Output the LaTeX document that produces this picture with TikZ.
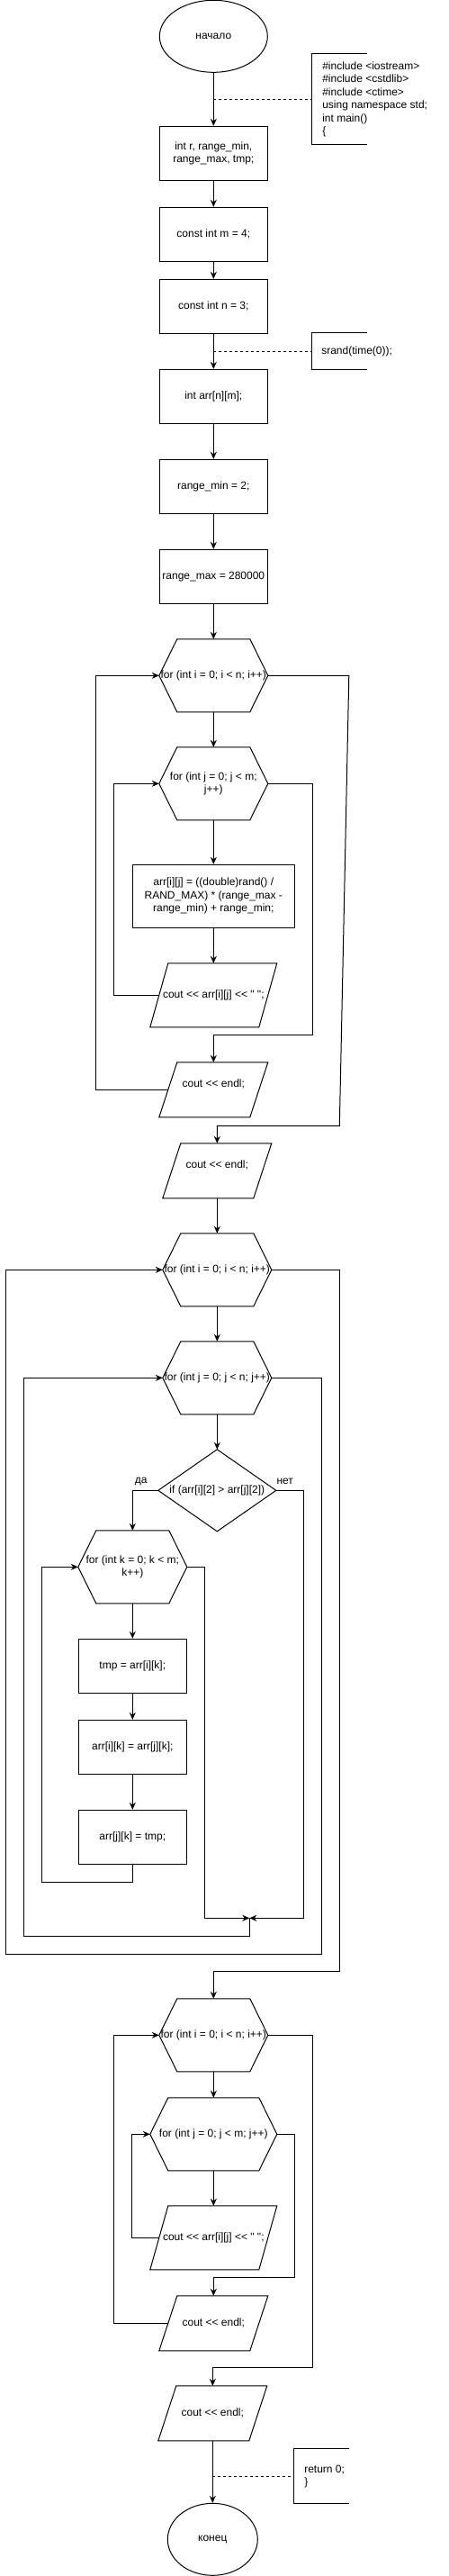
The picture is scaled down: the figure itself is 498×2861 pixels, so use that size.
\documentclass[tikz,border=0pt]{standalone}
\usepackage{fontspec}
\setmainfont{Liberation Sans}[Ligatures=TeXOff]
\usetikzlibrary{arrows.meta,shapes.geometric}

\tikzset{
  every node/.style={font=\fontsize{12}{14.5}\selectfont, inner sep=0pt, align=center},
  termbox/.style={draw, ellipse, minimum width=120pt, minimum height=80pt},
  stepbox/.style={draw, rectangle, minimum width=120pt, minimum height=60pt},
  loopbox/.style={rectangle, minimum width=120pt, minimum height=80pt},
  iobox/.style={rectangle, minimum width=120pt, minimum height=60pt},
  notebox/.style={rectangle, minimum width=60pt},
  notetext/.style={anchor=west, align=left},
  note/.style={dash pattern=on 3pt off 3pt}
}

\begin{document}
\begin{tikzpicture}[x=1pt, y=-1pt, line width=1pt, >={Stealth[length=8pt,width=7pt]}]
\useasboundingbox (0,0) rectangle (498,2861);

% main column
\node[termbox] (start) at (237.3,40.3) {начало};
\node[stepbox] (decl) at (237.3,170.3) {int r, range\_min,\\range\_max, tmp;};
\node[stepbox] (m) at (237.3,260.3) {const int m = 4;};
\node[stepbox] (n) at (237.3,340.3) {const int n = 3;};
\node[stepbox] (arr) at (237.3,440.3) {int arr[n][m];};
\node[stepbox] (rmin) at (237.3,540.3) {range\_min = 2;};
\node[stepbox] (rmax) at (237.3,640.3) {range\_max = 280000};

% filling
\node[loopbox] (for1) at (237.3,750.3) {for (int i = 0; i < n; i++)};
\node[loopbox] (for2) at (237.3,870.3) {for (int j = 0; j < m;\\j++)};
\node[stepbox, minimum width=180pt, minimum height=70pt] (calc) at (237.3,995.3) {arr[i][j] = ((double)rand() /\\RAND\_MAX) * (range\_max -\\range\_min) + range\_min;};
\node[iobox, minimum width=140pt, minimum height=70pt] (out1) at (237.3,1105.3) {cout << arr[i][j] << " ";};
\node[iobox] (out2) at (237.3,1210.3) {cout << endl;\\\mbox{}};
\node[iobox] (out3) at (241.3,1300.3) {cout << endl;\\\mbox{}};

% sorting
\node[loopbox] (for3) at (241.3,1410.3) {for (int i = 0; i < n; i++)};
\node[loopbox] (for4) at (241.3,1530.3) {for (int j = 0; j < n; j++)};
\node[rectangle, minimum width=130pt, minimum height=90pt] (cond) at (241.3,1655.3) {if (arr[i][2] > arr[j][2])};
\node (yes) at (156.7,1645.3) {да};
\node (no) at (316.7,1645.3) {нет};
\node[loopbox] (for5) at (147.3,1740.3) {for (int k = 0; k < m;\\k++)};
\node[stepbox] (tmp1) at (147.3,1850.3) {tmp = arr[i][k];};
\node[stepbox] (swap) at (147.3,1940.3) {arr[i][k] = arr[j][k];};
\node[stepbox] (tmp2) at (147.3,2040.3) {arr[j][k] = tmp;};
\coordinate (merge) at (277.3,2130.3);

% printing
\node[loopbox] (for6) at (237.3,2260.3) {for (int i = 0; i < n; i++)};
\node[loopbox, minimum width=140pt] (for7) at (237.3,2370.3) {for (int j = 0; j < m; j++)};
\node[iobox, minimum width=140pt, minimum height=70pt] (out4) at (237.3,2485.3) {cout << arr[i][j] << " ";};
\node[iobox] (out5) at (237.3,2580.3) {cout << endl;};
\node[iobox] (out6) at (236.3,2680.3) {cout << endl;};
\node[termbox, minimum width=100pt] (stop) at (236.3,2820.3) {конец};

% notes
\node[notebox, minimum height=100pt] (inc) at (377.3,110.3) {};
\node[notetext] (inctext) at ([xshift=11pt]inc.west) {\#include <iostream>\\\#include <cstdlib>\\\#include <ctime>\\using namespace std;\\int main()\\\{};
\node[notebox, minimum height=40pt] (seed) at (377.3,390.3) {};
\node[notetext] (seedtext) at ([xshift=10pt]seed.west) {srand(time(0));};
\node[notebox, minimum height=60pt] (ret) at (357.3,2750.3) {};
\node[notetext] (rettext) at ([xshift=11pt]ret.west) {return 0;\\\}};

% outlines
\foreach \h in {for1,for2,for3,for4,for5,for6,for7}
  \draw ([xshift=20pt]\h.north west) -- ([xshift=-20pt]\h.north east) -- (\h.east)
    -- ([xshift=-20pt]\h.south east) -- ([xshift=20pt]\h.south west) -- (\h.west) -- cycle;
\foreach \p in {out1,out2,out3,out4,out5,out6}
  \draw ([xshift=20pt]\p.north west) -- (\p.north east) -- ([xshift=-20pt]\p.south east) -- (\p.south west) -- cycle;
\draw (cond.north) -- (cond.east) -- (cond.south) -- (cond.west) -- cycle;
\foreach \c in {inc,seed,ret}
  \draw (\c.north east) -- (\c.north west) -- (\c.south west) -- (\c.south east);

% straight flow
\foreach \a/\b in {start/decl,decl/m,m/n,n/arr,arr/rmin,rmin/rmax,rmax/for1,for1/for2,for2/calc,calc/out1,
    out3/for3,for3/for4,for4/cond,for5/tmp1,tmp1/swap,swap/tmp2,for6/for7,for7/out4,out6/stop}
  \draw[->] (\a) -- (\b);
\draw[note] (start.south |- inc.west) -- (inc.west);
\draw[note] (n.south |- seed.west) -- (seed.west);
\draw[note] (out6.south |- ret.west) -- (ret.west);

% loops of the filling
\draw[->] ([xshift=10pt]out1.west) -- ++(-50,0) |- (for2.west);
\draw[->] (for2.east) -- ++(50,0) |- ([yshift=30pt]out2.north) -- (out2.north);
\draw[->] ([xshift=10pt]out2.west) -- ++(-80,0) |- (for1.west);
\draw[->] (for1.east) -- ++(90,0) -- (377.3,1250.3) -| (out3.north);

% loops of the sorting
\draw[->] (cond.west) -| (for5.north);
\draw[->] (cond.east) -| ([xshift=60pt]merge) -- (merge);
\draw[->] (tmp2.south) -- ++(0,20) -| ([xshift=-40pt]for5.west) -- (for5.west);
\draw[->] (for5.east) -- ++(20,0) |- (merge);
\draw[->] (merge) -- ++(0,20) -| ([xshift=-154pt]for4.west) -- (for4.west);
\draw[->] (for4.east) -- ++(56,0) -- ++(0,640) -| ([xshift=-174pt]for3.west) -- (for3.west);
\draw[->] (for3.east) -- ++(76,0) |- ([yshift=30pt]for6.north) -- (for6.north);

% loops of the printing
\draw[->] ([xshift=10pt]out4.west) -- ++(-30,0) |- (for7.west);
\draw[->] (for7.east) -- ++(20,0) |- ([yshift=20pt]out5.north) -- (out5.north);
\draw[->] ([xshift=10pt]out5.west) -- ++(-60,0) |- (for6.west);
\draw[->] (for6.east) -- ++(50,0) |- ([yshift=20pt]out6.north) -- (out6.north);
\end{tikzpicture}
\end{document}
